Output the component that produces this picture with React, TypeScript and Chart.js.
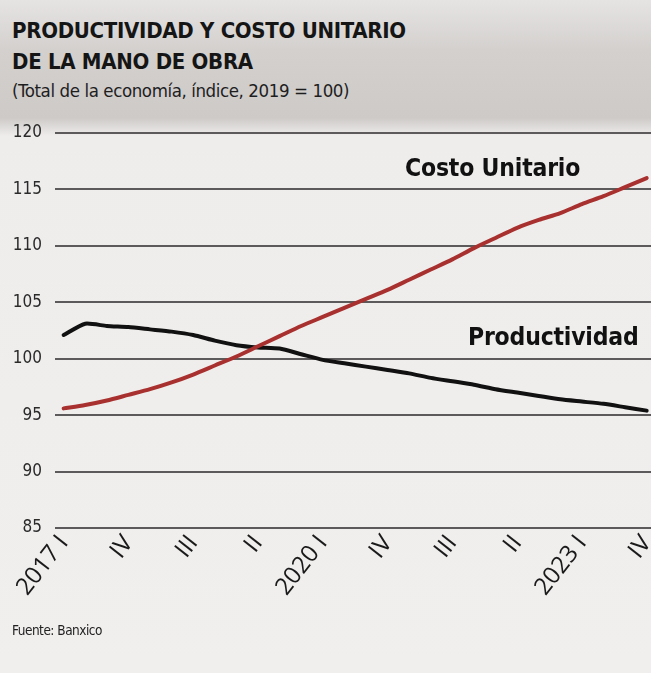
import React, { useEffect, useRef } from "react";
import { Chart, registerables } from "chart.js";

Chart.register(...registerables);

const quarters = [
  "2017 I", "II", "III", "IV",
  "2018 I", "II", "III", "IV",
  "2019 I", "II", "III", "IV",
  "2020 I", "II", "III", "IV",
  "2021 I", "II", "III", "IV",
  "2022 I", "II", "III", "IV",
  "2023 I", "II", "III", "IV",
];

const costoUnitario = [
  95.6, 95.9, 96.3, 96.8, 97.3, 97.9, 98.6, 99.4, 100.2, 101.1,
  102.0, 102.9, 103.7, 104.5, 105.3, 106.1, 107.0, 107.9, 108.8, 109.8,
  110.7, 111.6, 112.3, 112.9, 113.7, 114.4, 115.2, 116.0,
];

const productividad = [
  102.1, 103.1, 102.9, 102.8, 102.6, 102.4, 102.1, 101.6, 101.2, 101.0,
  100.9, 100.4, 99.9, 99.6, 99.3, 99.0, 98.7, 98.3, 98.0, 97.7,
  97.3, 97.0, 96.7, 96.4, 96.2, 96.0, 95.7, 95.4,
];

const yTicks = [85, 90, 95, 100, 105, 110, 115, 120];
const xTickStep = 3;

const FONT = '"Liberation Sans Narrow", "DejaVu Sans Condensed", "Open Sans", sans-serif';
const XFONT = '"Open Sans", "DejaVu Sans", sans-serif';

export default function App() {
  const ref = useRef<HTMLCanvasElement | null>(null);

  useEffect(() => {
    if (!ref.current) return;
    const xTickValues = quarters.map((_, i) => i).filter((i) => i % xTickStep === 0);
    const chart = new Chart(ref.current, {
      type: "line",
      data: {
        datasets: [
          {
            label: "Costo Unitario",
            data: costoUnitario.map((v, i) => ({ x: i, y: v })),
            borderColor: "#a8312f",
            borderWidth: 4,
            pointRadius: 0,
            tension: 0.25,
            borderCapStyle: "round",
          },
          {
            label: "Productividad",
            data: productividad.map((v, i) => ({ x: i, y: v })),
            borderColor: "#111111",
            borderWidth: 4,
            pointRadius: 0,
            tension: 0.2,
            borderCapStyle: "round",
          },
        ],
      },
      options: {
        animation: false,
        responsive: false,
        maintainAspectRatio: false,
        layout: { padding: { top: 133, right: 0, bottom: 65, left: 0 } },
        plugins: {
          legend: { display: false },
          tooltip: { enabled: false },
          title: { display: false },
        },
        scales: {
          x: {
            type: "linear",
            min: -0.4,
            max: 27.2,
            afterBuildTicks: (scale: any) => {
              scale.ticks = xTickValues.map((v) => ({ value: v }));
            },
            afterFit: (scale: any) => {
              scale.height = 80;
              scale.paddingLeft = 0;
              scale.paddingRight = 0;
            },
            grid: { display: false, drawTicks: false },
            border: { display: false },
            ticks: {
              autoSkip: false,
              maxRotation: 52,
              minRotation: 52,
              padding: 2,
              color: "#1a1a1a",
              font: { family: XFONT, size: 24 },
              callback: (v: any) => quarters[Math.round(Number(v))] ?? "",
            },
          },
          y: {
            min: 85,
            max: 120,
            afterBuildTicks: (scale: any) => {
              scale.ticks = yTicks.map((v) => ({ value: v }));
            },
            afterFit: (scale: any) => {
              scale.width = 55;
            },
            grid: { color: "#5c5a5a", lineWidth: 2, drawTicks: false },
            border: { display: false },
            ticks: {
              padding: 13,
              color: "#2a2a2a",
              font: { family: FONT, size: 17 },
            },
          },
        },
      },
    });
    return () => chart.destroy();
  }, []);

  return (
    <div
      style={{
        position: "absolute",
        top: 0,
        left: 0,
        width: 651,
        height: 673,
        overflow: "hidden",
        background:
          "linear-gradient(to bottom, #e6e4e3 0px, #d3d0ce 50px, #cdcac8 118px, #efedec 136px, #f1efee 100%)",
        fontFamily: FONT,
      }}
    >
      <div
        style={{
          position: "absolute",
          left: 12,
          top: 15,
          fontWeight: 700,
          fontSize: 22,
          lineHeight: "31px",
          color: "#151515",
          letterSpacing: -0.3,
        }}
      >
        PRODUCTIVIDAD Y COSTO UNITARIO
        <br />
        DE LA MANO DE OBRA
      </div>
      <div
        style={{
          position: "absolute",
          left: 12,
          top: 80,
          fontSize: 18.5,
          color: "#1e1e1e",
          letterSpacing: -0.4,
        }}
      >
        (Total de la economía, índice, 2019 = 100)
      </div>
      <canvas
        ref={ref}
        width={651}
        height={673}
        style={{ position: "absolute", left: 0, top: 0, width: 651, height: 673 }}
      />
      <div
        style={{
          position: "absolute",
          left: 405,
          top: 153,
          fontWeight: 700,
          fontSize: 24.5,
          color: "#111",
          letterSpacing: -0.2,
        }}
      >
        Costo Unitario
      </div>
      <div
        style={{
          position: "absolute",
          left: 468,
          top: 322,
          fontWeight: 700,
          fontSize: 24.5,
          color: "#111",
          letterSpacing: -0.2,
        }}
      >
        Productividad
      </div>
      <div
        style={{
          position: "absolute",
          left: 12,
          top: 622,
          fontSize: 13.5,
          color: "#222",
          letterSpacing: -0.5,
        }}
      >
        Fuente: Banxico
      </div>
    </div>
  );
}
